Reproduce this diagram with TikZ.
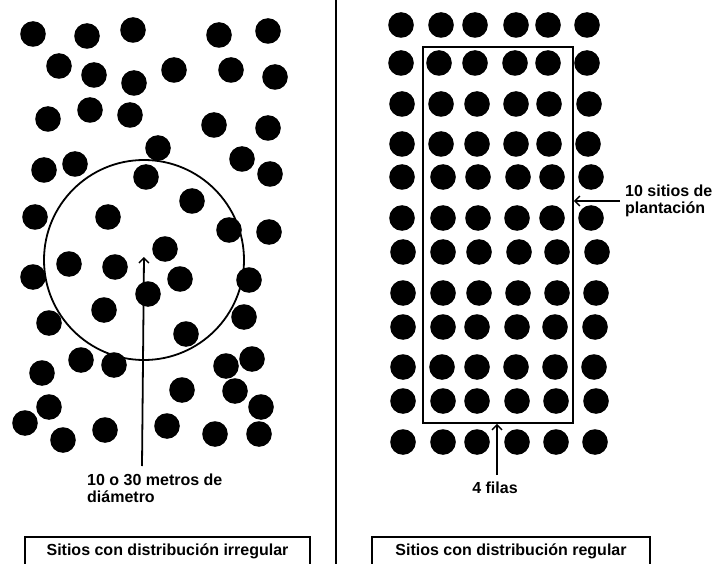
\documentclass[tikz,border=0pt]{standalone}
\usepackage{fontspec}
\setmainfont{Liberation Sans}
\usetikzlibrary{positioning,arrows.meta}

\begin{document}
\begin{tikzpicture}[
  x=1pt, y=-1pt,
  sitio/.style={fill=black},
  linea/.style={line width=1.8pt},
  arr/.style={line width=1.8pt, -{Straight Barb[length=5pt,width=10pt,line width=1.4pt]}},
  nota/.style={font=\bfseries\fontsize{16}{17}\selectfont, inner sep=0pt, align=left},
  caja/.style={draw, line width=1.8pt, font=\bfseries\fontsize{16}{17}\selectfont,
    minimum width=285pt, minimum height=28pt, inner sep=0pt}
]
  \useasboundingbox (0,0) rectangle (712,564);
  \clip (0,0) rectangle (712,564);

  % sitios irregulares
  \foreach \x/\y in {33/34,87/36,133/30,219/35,268/31,
      59/66,94/75,134/83,174/70,231/70,275/77,
      48/119,90/110,130/115,214/125,268/128,
      158/148,44/170,75/164,242/159,270/174,146/177,
      192/201,35/217,108/217,229/230,269/232,
      165/249,69/264,115/267,33/277,180/279,249/280,
      148/294,104/310,49/323,244/317,186/334,
      81/360,114/365,226/366,252/359,42/373,
      182/390,235/391,49/407,261/407,25/423,167/426,
      63/440,105/430,215/434,259/434}
    \fill[sitio] (\x,\y) circle (12.8);

  \node[draw, linea, circle, minimum size=200pt] (zona) at (144,260) {};

  % sitios regulares
  \foreach \y/\xs in {25/{401,441,475,516,548,587},
      63/{401,439,475,515,548,587},
      104/{402,441,477,516,549,589},
      144/{402,441,477,516,549,588},
      177/{402,443,478,518,552,591},
      218/{402,443,478,517,552,591},
      252/{403,443,479,519,557,597},
      293/{403,443,479,518,557,596},
      327/{403,443,477,517,555,595},
      367/{403,442,477,516,555,594},
      401/{403,443,477,517,556,596},
      442/{403,443,477,517,556,595}}
    \foreach \x in \xs
      \fill[sitio] (\x,\y) circle (12.8);

  \node[draw, linea, minimum width=150pt, minimum height=376pt] (parcela) at (498,235) {};

  % divisor
  \draw[line width=1.5pt] (336,0) -- (336,564);

  % etiquetas
  \node[nota, anchor=north west] (diam) at (87,474) {10 o 30 metros de\\di\'ametro};
  \coordinate (diamcola) at (142,466);
  \draw[arr] (diamcola) -- (zona.center |- 0,257);

  \node[nota, anchor=west] (sitios) at (625,201) {10 sitios de\\plantaci\'on};
  \draw[arr] ([xshift=-5pt]sitios.west) -- (sitios.west -| parcela.east);

  \node[nota] (filas) at (495,488) {4 filas};
  \draw[arr] (497,475) -- (parcela.south -| 497,0);

  \node[caja] (irreg) at (167.5,551) {Sitios con distribuci\'on irregular};
  \node[caja, minimum width=278pt] (reg) at (511,551) {Sitios con distribuci\'on regular};
\end{tikzpicture}
\end{document}
